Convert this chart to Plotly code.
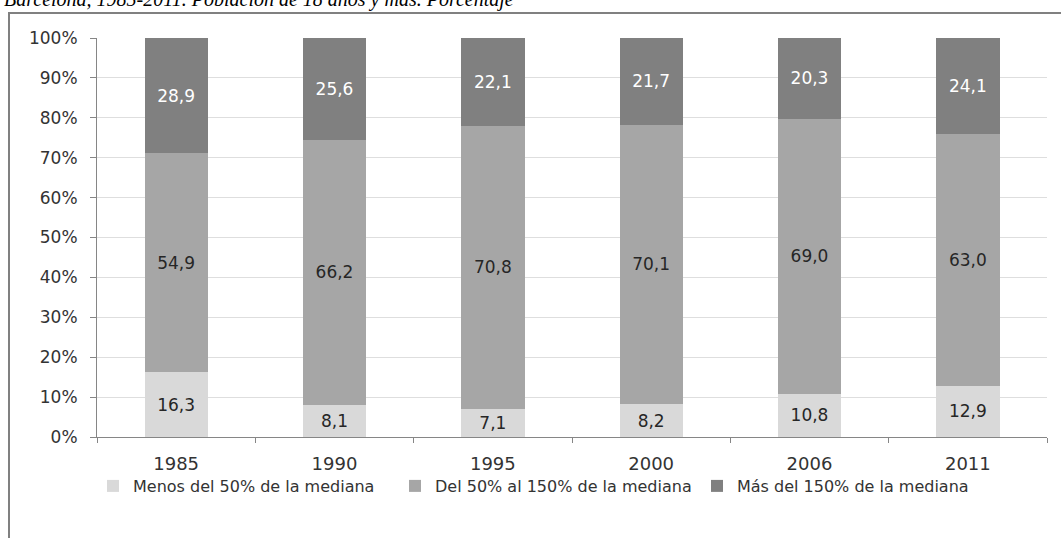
import plotly.graph_objects as go

years = ["1985", "1990", "1995", "2000", "2006", "2011"]
menos_50 = [16.3, 8.1, 7.1, 8.2, 10.8, 12.9]
del_50_150 = [54.9, 66.2, 70.8, 70.1, 69.0, 63.0]
mas_150 = [28.9, 25.6, 22.1, 21.7, 20.3, 24.1]

series = [
    ("Menos del 50% de la mediana", menos_50, "#d9d9d9", "#262626"),
    ("Del 50% al 150% de la mediana", del_50_150, "#a6a6a6", "#262626"),
    ("Más del 150% de la mediana", mas_150, "#808080", "#ffffff"),
]

FONT = "DejaVu Sans"
TEXT_COLOR = "#333333"


def fmt(v):
    return f"{v:.1f}".replace(".", ",")


fig = go.Figure()
for name, vals, color, tcolor in series:
    fig.add_trace(go.Bar(
        x=years, y=vals, name=name,
        marker=dict(color=color, line=dict(width=0)),
        text=[fmt(v) for v in vals],
        textposition="inside", insidetextanchor="middle",
        textangle=0, constraintext="none",
        textfont=dict(family=FONT, size=17, color=tcolor),
        hoverinfo="skip",
    ))

L, R, T, B = 97, 14, 38, 101
W, H = 1061, 538
pw, ph = W - L - R, H - T - B


def px_x(x):
    return (x - L) / pw


def px_y(y):
    return (H - B - y) / ph


fig.update_layout(
    width=W, height=H,
    margin=dict(l=L, r=R, t=T, b=B, pad=0),
    barmode="stack", barnorm="percent", bargap=0.6,
    plot_bgcolor="white", paper_bgcolor="white",
    font=dict(family=FONT, size=16, color=TEXT_COLOR),
    showlegend=True,
    legend=dict(
        orientation="h", x=px_x(93), xanchor="left",
        y=px_y(486), yanchor="middle",
        entrywidth=257, entrywidthmode="pixels",
        bgcolor="rgba(0,0,0,0)",
        font=dict(family=FONT, size=16, color=TEXT_COLOR),
        itemwidth=30, traceorder="normal",
    ),
    xaxis=dict(
        type="category", tickson="boundaries", ticks="outside",
        ticklen=5, tickcolor="#868686", showline=True,
        linecolor="#868686", linewidth=1, showgrid=False,
        ticklabelstandoff=10,
        tickfont=dict(family=FONT, size=18, color=TEXT_COLOR),
    ),
    yaxis=dict(
        range=[0, 100], dtick=10, ticksuffix="%", ticks="outside",
        ticklen=6, tickcolor="#868686", showline=True,
        linecolor="#868686", linewidth=1, showgrid=True,
        gridcolor="#dedede", gridwidth=1, zeroline=False,
        ticklabelstandoff=9,
        tickfont=dict(family=FONT, size=17, color=TEXT_COLOR),
    ),
    shapes=[dict(
        type="rect", xref="paper", yref="paper",
        x0=px_x(9), x1=px_x(1080), y0=px_y(560), y1=px_y(13),
        line=dict(color="#808080", width=2), layer="below",
    )],
    annotations=[dict(
        text="<i>Barcelona, 1985-2011. Población de 18 años y más. Porcentaje</i>",
        xref="paper", yref="paper", x=px_x(2), y=px_y(13),
        xanchor="left", yanchor="bottom", showarrow=False,
        font=dict(family="Liberation Serif", size=20, color="#000000"),
    )],
)

fig.write_html("out.html")
